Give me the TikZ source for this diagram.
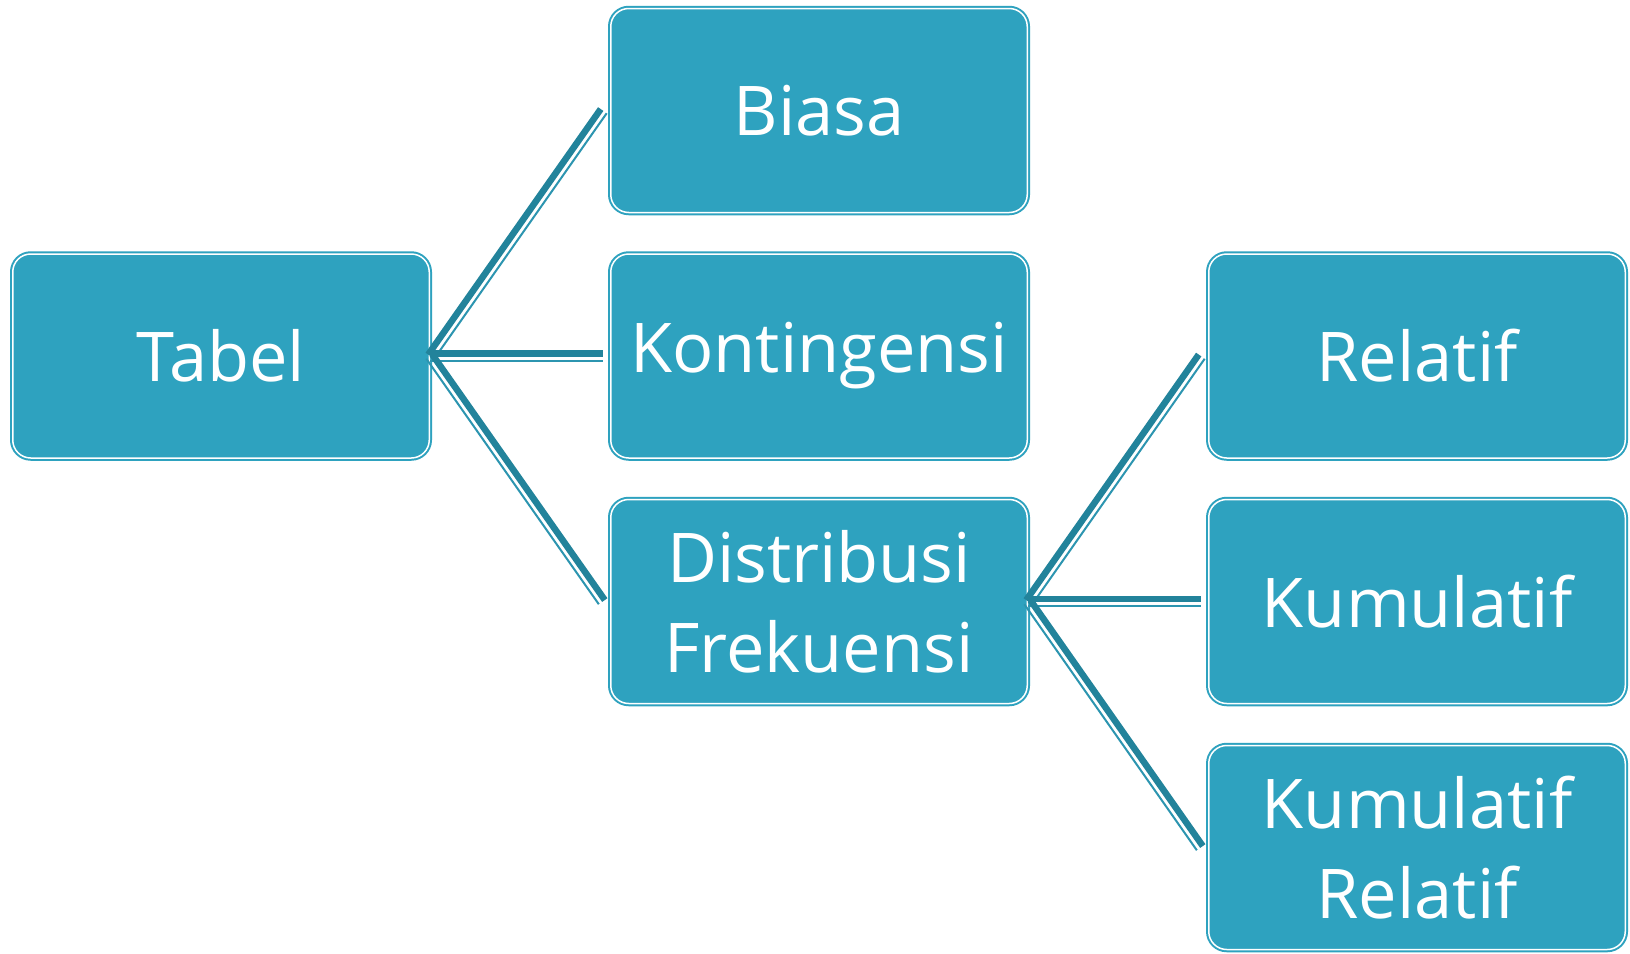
\documentclass[tikz,border=0pt]{standalone}
\usepackage{fontspec}
\setmainfont{Open Sans}
\usetikzlibrary{calc}
\definecolor{boxfill}{HTML}{2EA2BF}
\definecolor{linedark}{HTML}{22839B}
\definecolor{linelight}{HTML}{2C95B0}
\begin{document}
\begin{tikzpicture}[x=1pt,y=-1pt,
  box/.style={rectangle, rounded corners=18pt, fill=boxfill, draw=boxfill, double=white,
    line width=2pt, double distance=1.5pt, minimum width=416.5pt, minimum height=204pt,
    inner sep=0pt, text=white, align=center, font=\fontsize{68.6}{90}\selectfont},
  thickconn/.style={draw=linedark, line width=6.5pt},
  thinconn/.style={draw=linelight, line width=2pt}
]
\useasboundingbox (0,0) rectangle (1630,953);
\fill[white] (0,0) rectangle (1630,953);

\node[box] (tabel) at (221,356) {Tabel};
\node[box] (biasa) at (819,110.5) {Biasa};
\node[box] (konti) at (819,356) {Kontingensi};
\node[box] (distr) at (819,601.5) {Distribusi\\Frekuensi};
\node[box] (relat) at (1417,356) {Relatif};
\node[box] (kumul) at (1417,601.5) {Kumulatif};
\node[box] (kumre) at (1417,847.5) {Kumulatif\\Relatif};

\coordinate (e1) at ($(biasa.west)+(-7,0)$);
\coordinate (e2) at ($(konti.west)+(-7,0)$);
\coordinate (e3) at ($(distr.west)+(-7,0)$);
\coordinate (e4) at ($(relat.west)+(-7,0)$);
\coordinate (e5) at ($(kumul.west)+(-7,0)$);
\coordinate (e6) at ($(kumre.west)+(-7,0)$);

\foreach \s/\e in {tabel/e1, tabel/e2, tabel/e3, distr/e4, distr/e5, distr/e6} {
  \draw[thickconn] ($(\s.east)!2.5pt!90:(\e)$) -- ($(\e)!2.5pt!-90:(\s.east)$);
  \draw[thinconn] ($(\s.east)!4.8pt!-90:(\e)$) -- ($(\e)!4.8pt!90:(\s.east)$);
}
\end{tikzpicture}
\end{document}
